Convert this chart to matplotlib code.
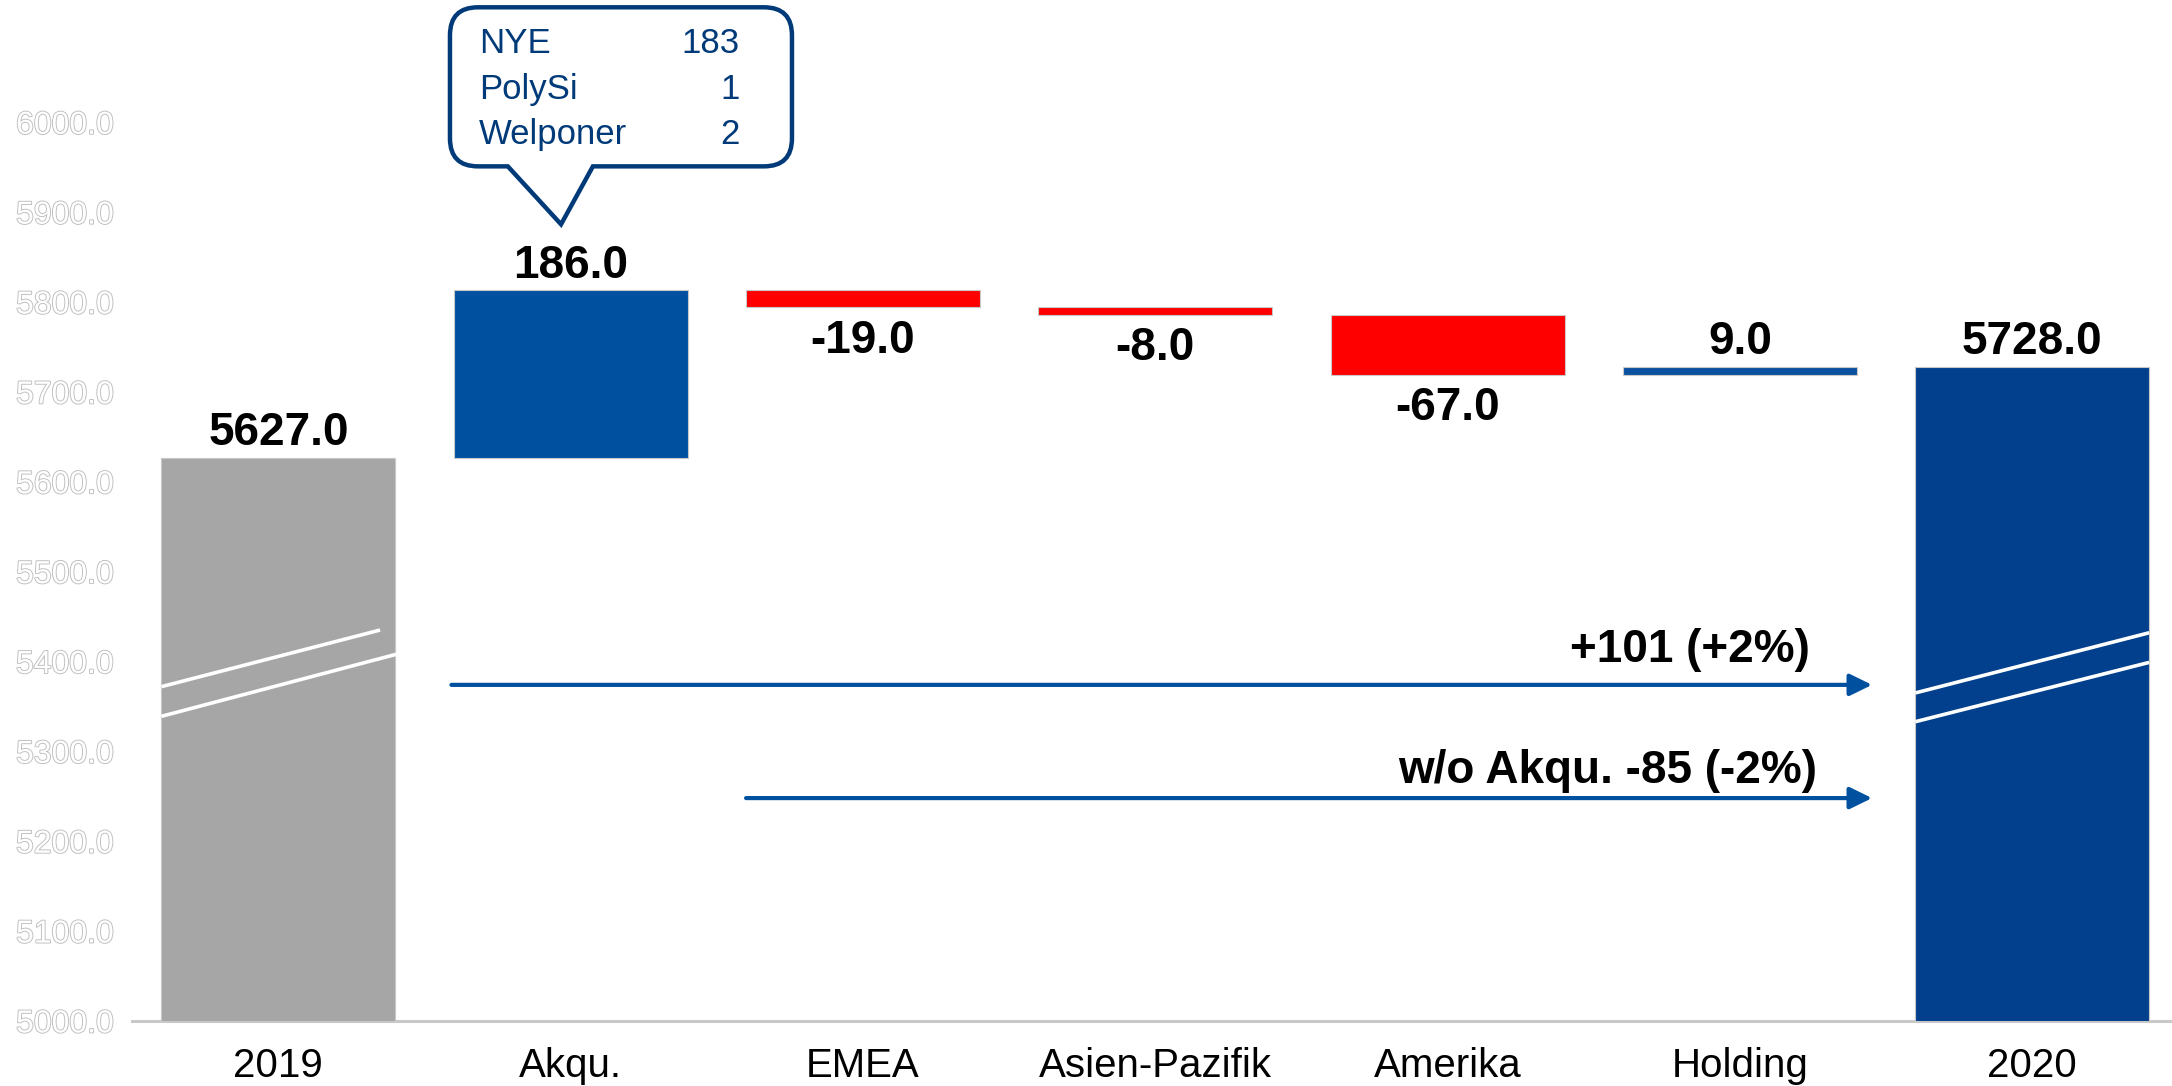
import numpy as np
import matplotlib.pyplot as plt
import matplotlib.patheffects as pe
from matplotlib.patches import PathPatch
from matplotlib.path import Path
from matplotlib.transforms import IdentityTransform

plt.rcParams['font.family'] = ['Liberation Sans', 'DejaVu Sans']

#_______________________________________________________________________________
# DATA
categories = ['2019', 'Akqu.', 'EMEA', 'Asien-Pazifik', 'Amerika', 'Holding', '2020']
deltas = [5627.0, 186.0, -19.0, -8.0, -67.0, 9.0, 5728.0]
is_total = [True, False, False, False, False, False, True]
bar_colors = ['#A6A6A6', '#0050A0', '#FF0000', '#FF0000', '#FF0000', '#0A52A0', '#023F8C']
yticks = np.arange(5000, 6001, 100)

callout_names = ['NYE', 'PolySi', 'Welponer']
callout_values = [183, 1, 2]

#_______________________________________________________________________________
# waterfall geometry
bottoms, heights, tops = [], [], []
running = 0.0
for d, tot in zip(deltas, is_total):
    if tot:
        bottoms.append(0.0)
        heights.append(d)
        running = d
    else:
        bottoms.append(running if d >= 0 else running + d)
        heights.append(abs(d))
        running += d
    tops.append(bottoms[-1] + heights[-1])

x = np.arange(len(categories))
width = 0.8
start, end, acq = deltas[0], deltas[-1], deltas[1]

fig = plt.figure(figsize=(21.72, 10.86), dpi=100)
ax = fig.add_axes([0.0606, 0.0599, 0.9394, 0.940])
ax.set_xlim(-0.502, 6.478)
ax.set_ylim(5000, 6136)

ax.bar(x, heights, bottom=bottoms, width=width, color=bar_colors,
       edgecolor='#C8C8C8', linewidth=0.8, zorder=2)

# value labels
for i, d in enumerate(deltas):
    if d >= 0 or is_total[i]:
        ax.annotate(f'{d:.1f}', (x[i], tops[i]), xytext=(0, 2), textcoords='offset points',
                    ha='center', va='bottom', fontsize=33, fontweight='bold')
    else:
        ax.annotate(f'{d:.1f}', (x[i], bottoms[i]), xytext=(0, -8), textcoords='offset points',
                    ha='center', va='top', fontsize=33, fontweight='bold')

# axis breaks on the total bars
breaks = {0: [(-0.4, 5372, 0.348, 5435), (-0.4, 5339, 0.403, 5408)],
          6: [(-0.4, 5365, 0.4, 5432), (-0.4, 5333, 0.4, 5399)]}
for i, segs in breaks.items():
    for x0, y0, x1, y1 in segs:
        ax.plot([x[i] + x0, x[i] + x1], [y0, y1], color='white', lw=2.6,
                solid_capstyle='butt', zorder=3)

# change arrows
arrow_col = '#0050A0'
arrow_props = dict(arrowstyle='-|>,head_length=0.45,head_width=0.22', color=arrow_col,
                   lw=3, mutation_scale=30, shrinkA=0, shrinkB=0)
total_chg = end - start
ax.annotate('', xy=(5.452, 5374), xytext=(0.592, 5374), arrowprops=arrow_props, zorder=4)
ax.text(5.24, 5399, f'+{total_chg:.0f} ({total_chg / start * 100:+.0f}%)', ha='right',
        va='baseline', fontsize=33, fontweight='bold')
org_chg = end - start - acq
ax.annotate('', xy=(5.452, 5248), xytext=(1.60, 5248), arrowprops=arrow_props, zorder=4)
ax.text(5.264, 5265, f'w/o Akqu. {org_chg:.0f} ({org_chg / start * 100:+.0f}%)', ha='right',
        va='baseline', fontsize=33, fontweight='bold')

# callout for acquisitions (built in pixel space so the corners stay round)
navy = '#003A78'
(bx0, by0), (bx1, by1) = ax.transData.transform([(0.587, 5951), (1.757, 6128)])
(px0, _), (tipx, tipy), (px1, _) = ax.transData.transform([(0.785, 5951), (0.967, 5886.5),
                                                           (1.076, 5951)])
r = 28
verts = [(bx0 + r, by0), (px0, by0), (tipx, tipy), (px1, by0), (bx1 - r, by0),
         (bx1, by0), (bx1, by0 + r), (bx1, by1 - r),
         (bx1, by1), (bx1 - r, by1), (bx0 + r, by1),
         (bx0, by1), (bx0, by1 - r), (bx0, by0 + r),
         (bx0, by0), (bx0 + r, by0), (bx0 + r, by0)]
codes = [Path.MOVETO, Path.LINETO, Path.LINETO, Path.LINETO, Path.LINETO,
         Path.CURVE3, Path.CURVE3, Path.LINETO,
         Path.CURVE3, Path.CURVE3, Path.LINETO,
         Path.CURVE3, Path.CURVE3, Path.LINETO,
         Path.CURVE3, Path.CURVE3, Path.CLOSEPOLY]
callout = PathPatch(Path(verts, codes), facecolor='white', edgecolor=navy, lw=3.2,
                    joinstyle='miter', transform=IdentityTransform(), clip_on=False, zorder=5)
ax.add_artist(callout)
for name, val, yy in zip(callout_names, callout_values, [6088, 6036, 5986]):
    ax.text(0.686, yy, name, ha='left', va='center', fontsize=25, color=navy, zorder=8)
    ax.text(1.579, yy, f'{val}', ha='right', va='center', fontsize=25, color=navy, zorder=8)

#_______________________________________________________________________________
# axes styling
ax.set_xticks(x)
ax.set_xticklabels(categories, fontsize=29)
ax.set_yticks(yticks)
ax.set_yticklabels([f'{v:.1f}' for v in yticks], fontsize=23, color='white',
                   path_effects=[pe.withStroke(linewidth=1.3, foreground='#BDBDBD')])
ax.tick_params(axis='both', length=0)
ax.tick_params(axis='x', pad=19)
ax.tick_params(axis='y', pad=13)
for s in ['left', 'top', 'right']:
    ax.spines[s].set_visible(False)
ax.spines['bottom'].set_color('#C8C8C8')
ax.spines['bottom'].set_linewidth(2.2)
ax.spines['bottom'].set_zorder(1)

plt.savefig('out.png', dpi=100)
